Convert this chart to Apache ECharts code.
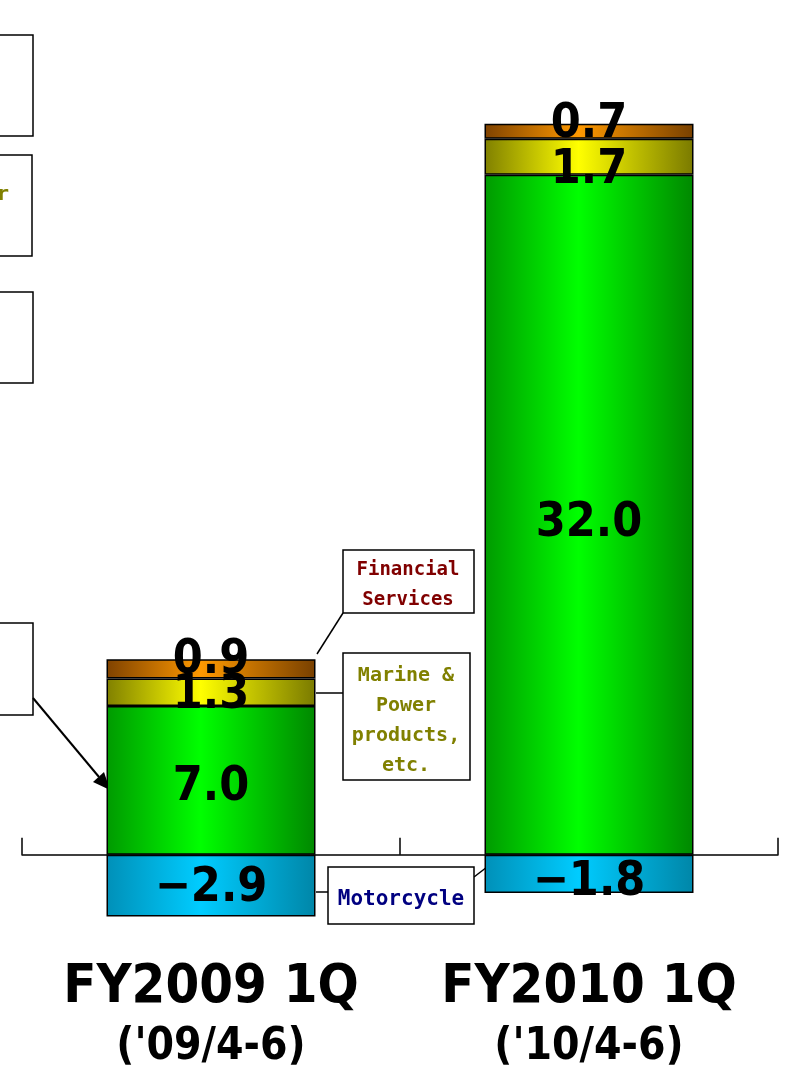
<!DOCTYPE html>
<html>
<head>
<meta charset="utf-8">
<script src="https://cdn.jsdelivr.net/npm/echarts@6/dist/echarts.min.js"></script>
<style>
  html, body { margin: 0; padding: 0; background: #fff; }
  #chart { width: 787px; height: 1074px; }
</style>
</head>
<body>
<div id="chart"></div>
<script>
// values (billion yen)
const categories = ['FY2009 1Q', 'FY2010 1Q'];
const periods = ["('09/4-6)", "('10/4-6)"];
const motorcycle = [-2.9, -1.8];
const automobile = [7.0, 32.0];
const marine = [1.3, 1.7];
const financial = [0.9, 0.7];

const NUM_FONT = "'DejaVu Sans Condensed', 'DejaVu Sans', sans-serif";
const BOX_FONT = "'DejaVu Sans Mono', monospace";

function grad(edgeL, mid, edgeR) {
  return new echarts.graphic.LinearGradient(0, 0, 1, 0, [
    {offset: 0, color: edgeL},
    {offset: 0.45, color: mid},
    {offset: 1, color: edgeR}
  ]);
}

function fmt(p) {
  const v = p.value;
  return (v < 0 ? '\u2212' : '') + Math.abs(v).toFixed(1);
}

// small vertical nudges of value labels, like in the slide
function withShift(values, shifts) {
  return values.map((v, i) => ({value: v, label: {offset: [0, shifts[i]]}}));
}

function barSeries(name, values, shifts, color) {
  return {
    name: name,
    type: 'bar',
    stack: 'total',
    barWidth: 209,
    data: withShift(values, shifts),
    itemStyle: {color: color, borderColor: '#000', borderWidth: 1.5},
    label: {
      show: true,
      position: 'inside',
      formatter: fmt,
      color: '#000',
      fontFamily: NUM_FONT,
      fontWeight: 'bold',
      fontSize: 48
    },
    emphasis: {disabled: true}
  };
}

const myChart = echarts.init(document.getElementById('chart'));

const boxStyle = {fill: '#fff', stroke: '#000', lineWidth: 1.5};
const lineStyle = {stroke: '#000', lineWidth: 1.5};

var option = {
  animation: false,
  grid: {left: 22, right: 9, top: 111, bottom: 113},
  xAxis: [
    {
      type: 'category',
      data: categories,
      position: 'bottom',
      axisLine: {onZero: true, lineStyle: {color: '#000', width: 1.5}},
      axisTick: {show: true, inside: true, length: 17, lineStyle: {color: '#000', width: 1.5}},
      axisLabel: {show: false}
    },
    {
      type: 'category',
      data: categories,
      position: 'bottom',
      axisLine: {show: false, onZero: false},
      axisTick: {show: false},
      axisLabel: {
        margin: 2,
        formatter: (v, i) => '{a|' + v + '}\n{b|' + periods[i] + '}',
        rich: {
          a: {fontFamily: NUM_FONT, fontWeight: 'bold', fontSize: 54, lineHeight: 50, color: '#000'},
          b: {fontFamily: NUM_FONT, fontWeight: 'bold', fontSize: 44, lineHeight: 70, color: '#000'}
        }
      }
    }
  ],
  yAxis: {type: 'value', min: -5, max: 35, show: false},
  series: [
    barSeries('Motorcycle', motorcycle, [3, 9], grad('#0090b8', '#00ccff', '#0086a8')),
    barSeries('Automobile', automobile, [7, 9], grad('#009a00', '#00ff00', '#008800')),
    barSeries('Marine & Power products, etc.', marine, [3, 14], grad('#808000', '#ffff00', '#7a7a00')),
    barSeries('Financial Services', financial, [-8, -7], grad('#7f4200', '#ff9900', '#784000'))
  ],
  graphic: [
    // boxes on the left edge, cut off by the crop
    {type: 'rect', shape: {x: -10, y: 35, width: 43, height: 101}, style: boxStyle},
    {type: 'rect', shape: {x: -10, y: 155, width: 42, height: 101}, style: boxStyle},
    {type: 'text', style: {text: 'Power', x: 9, y: 195, textAlign: 'right', textVerticalAlign: 'middle',
      font: 'bold 20px ' + BOX_FONT, fill: '#808000'}},
    {type: 'rect', shape: {x: -10, y: 292, width: 43, height: 91}, style: boxStyle},
    {type: 'rect', shape: {x: -10, y: 623, width: 43, height: 92}, style: boxStyle},
    // arrow into the automobile bar
    {type: 'polyline', shape: {points: [[33, 698], [99, 777]]}, style: {stroke: '#000', lineWidth: 2}},
    {type: 'polygon', shape: {points: [[110, 790], [93, 782], [104, 772]]}, style: {fill: '#000'}},

    // Financial Services call-out
    {type: 'polyline', shape: {points: [[343, 613], [317, 654]]}, style: lineStyle},
    {type: 'rect', shape: {x: 343, y: 550, width: 131, height: 63}, style: boxStyle},
    {type: 'text', style: {text: 'Financial\nServices', x: 408, y: 585, textAlign: 'center', textVerticalAlign: 'middle',
      font: 'bold 19px ' + BOX_FONT, lineHeight: 30, fill: '#800000'}},

    // Marine & Power products call-out
    {type: 'polyline', shape: {points: [[316, 693], [343, 693]]}, style: lineStyle},
    {type: 'rect', shape: {x: 343, y: 653, width: 127, height: 127}, style: boxStyle},
    {type: 'text', style: {text: 'Marine &\nPower\nproducts,\netc.', x: 406, y: 721, textAlign: 'center', textVerticalAlign: 'middle',
      font: 'bold 20px ' + BOX_FONT, lineHeight: 30, fill: '#808000'}},

    // Motorcycle call-out
    {type: 'polyline', shape: {points: [[316, 892], [328, 892]]}, style: lineStyle},
    {type: 'polyline', shape: {points: [[474, 877], [487, 867]]}, style: lineStyle},
    {type: 'rect', shape: {x: 328, y: 867, width: 146, height: 57}, style: boxStyle},
    {type: 'text', style: {text: 'Motorcycle', x: 401, y: 900, textAlign: 'center', textVerticalAlign: 'middle',
      font: 'bold 21px ' + BOX_FONT, fill: '#000080'}}
  ]
};

myChart.setOption(option);
</script>
</body>
</html>
